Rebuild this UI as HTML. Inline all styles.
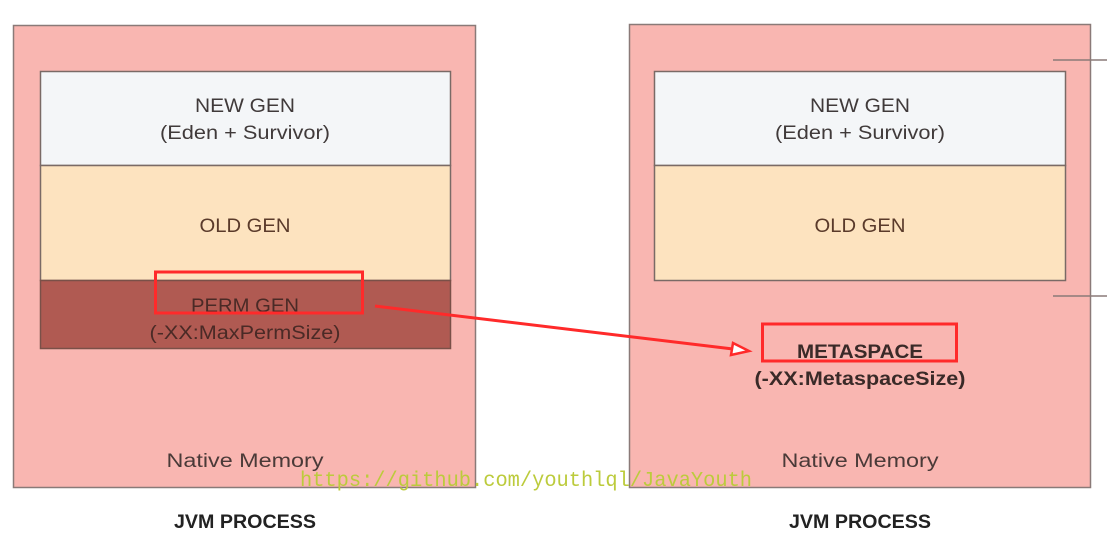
<!DOCTYPE html>
<html><head><meta charset="utf-8"><style>html,body{margin:0;padding:0;background:#fff}svg{display:block}</style></head>
<body>
<svg width="1107" height="533" viewBox="0 0 1107 533" xmlns="http://www.w3.org/2000/svg" font-family="Liberation Sans, sans-serif" font-size="19">
<rect width="1107" height="533" fill="#fff"/>
<!-- left -->
<rect x="13.5" y="25.5" width="462" height="462" fill="#f9b6b1" stroke="#8a7a78" stroke-width="1.5"/>
<rect x="40.5" y="71.5" width="410" height="94" fill="#f4f6f8" stroke="#7a6a66" stroke-width="1.5"/>
<rect x="40.5" y="165.5" width="410" height="115" fill="#fde3bf" stroke="#7a6a66" stroke-width="1.5"/>
<rect x="40.5" y="280.5" width="410" height="68" fill="#b05a52" stroke="#7a5048" stroke-width="1.5"/>
<text x="245" y="112" text-anchor="middle" fill="#403a3a" textLength="100" lengthAdjust="spacingAndGlyphs">NEW GEN</text>
<text x="245" y="139" text-anchor="middle" fill="#403a3a" textLength="170" lengthAdjust="spacingAndGlyphs">(Eden + Survivor)</text>
<text x="245" y="232" text-anchor="middle" fill="#5a3a2a" textLength="91" lengthAdjust="spacingAndGlyphs">OLD GEN</text>
<text x="245" y="312" text-anchor="middle" fill="#4a2a26" textLength="108" lengthAdjust="spacingAndGlyphs">PERM GEN</text>
<text x="245" y="339" text-anchor="middle" fill="#4a2a26" textLength="191" lengthAdjust="spacingAndGlyphs">(-XX:MaxPermSize)</text>
<rect x="155.5" y="272" width="207" height="41" fill="none" stroke="#ff2a2a" stroke-width="3"/>
<text x="245" y="467" text-anchor="middle" fill="#4a3a38" textLength="157" lengthAdjust="spacingAndGlyphs">Native Memory</text>
<text x="245" y="528" text-anchor="middle" fill="#222" font-weight="bold" textLength="142" lengthAdjust="spacingAndGlyphs">JVM PROCESS</text>
<!-- right -->
<rect x="629.5" y="24.5" width="461" height="463" fill="#f9b6b1" stroke="#8a7a78" stroke-width="1.5"/>
<rect x="654.5" y="71.5" width="411" height="94" fill="#f4f6f8" stroke="#7a6a66" stroke-width="1.5"/>
<rect x="654.5" y="165.5" width="411" height="115" fill="#fde3bf" stroke="#7a6a66" stroke-width="1.5"/>
<line x1="1053" y1="60" x2="1107" y2="60" stroke="#8a7a78" stroke-width="1.5"/>
<line x1="1053" y1="296" x2="1107" y2="296" stroke="#8a7a78" stroke-width="1.5"/>
<text x="860" y="112" text-anchor="middle" fill="#403a3a" textLength="100" lengthAdjust="spacingAndGlyphs">NEW GEN</text>
<text x="860" y="139" text-anchor="middle" fill="#403a3a" textLength="170" lengthAdjust="spacingAndGlyphs">(Eden + Survivor)</text>
<text x="860" y="232" text-anchor="middle" fill="#5a3a2a" textLength="91" lengthAdjust="spacingAndGlyphs">OLD GEN</text>
<rect x="762.5" y="324" width="194" height="37" fill="none" stroke="#ff2a2a" stroke-width="3"/>
<text x="860" y="358" text-anchor="middle" fill="#3a2a28" font-weight="bold" textLength="126" lengthAdjust="spacingAndGlyphs">METASPACE</text>
<text x="860" y="385" text-anchor="middle" fill="#3a2a28" font-weight="bold" textLength="211" lengthAdjust="spacingAndGlyphs">(-XX:MetaspaceSize)</text>
<text x="860" y="467" text-anchor="middle" fill="#4a3a38" textLength="157" lengthAdjust="spacingAndGlyphs">Native Memory</text>
<text x="860" y="528" text-anchor="middle" fill="#222" font-weight="bold" textLength="142" lengthAdjust="spacingAndGlyphs">JVM PROCESS</text>
<!-- arrow -->
<line x1="375" y1="306" x2="733" y2="349" stroke="#ff2a2a" stroke-width="3"/>
<polygon points="733,343 749,351 731,355" fill="#fff" stroke="#ff2a2a" stroke-width="2.5"/>
<!-- watermark -->
<text x="300" y="486" font-family="Liberation Mono, monospace" font-size="21" fill="#bccb3c" textLength="452" lengthAdjust="spacingAndGlyphs">https://github.com/youthlql/JavaYouth</text>
</svg>
</body></html>
